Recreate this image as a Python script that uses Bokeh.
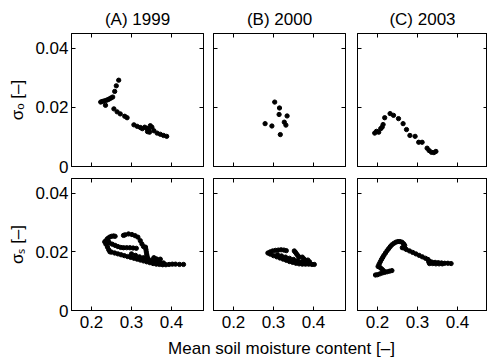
from bokeh.plotting import figure
from bokeh.layouts import column, row
from bokeh.models import (FixedTicker, NumeralTickFormatter, CustomJSTickFormatter,
                          LinearAxis, Range1d, Label)
from bokeh.embed import file_html
from bokeh.resources import INLINE

FONT = "Liberation Sans"
FS = "17px"

titles = ["(A) 1999", "(B) 2000", "(C) 2003"]
x_ticks = [0.2, 0.3, 0.4]
y_ticks = [0, 0.02, 0.04]
y_label_top = "σₒ [–]"
y_label_bottom = "σₛ [–]"
x_label = "Mean soil moisture content [–]"

# ---- top row: sigma_o ----
top_A_x = [0.223, 0.227, 0.232, 0.237, 0.241, 0.245, 0.249, 0.253, 0.258, 0.262, 0.268,
           0.235, 0.256, 0.264, 0.272, 0.283, 0.289, 0.306, 0.314, 0.322, 0.327, 0.333,
           0.338, 0.343, 0.347, 0.351, 0.340, 0.345, 0.356, 0.364, 0.372, 0.380, 0.388]
top_A_y = [0.0218, 0.0220, 0.0222, 0.0224, 0.0226, 0.0229, 0.0232, 0.0235, 0.0254, 0.0273, 0.0292,
           0.0207, 0.0195, 0.0185, 0.0178, 0.0170, 0.0165, 0.0141, 0.0136, 0.0132, 0.0128, 0.0133,
           0.0129, 0.0122, 0.0138, 0.0133, 0.0118, 0.0116, 0.0121, 0.0113, 0.0109, 0.0105, 0.0102]

top_B_x = [0.303, 0.315, 0.314, 0.334, 0.327, 0.331, 0.279, 0.296, 0.317]
top_B_y = [0.0218, 0.0198, 0.0176, 0.0171, 0.0150, 0.0140, 0.0145, 0.0137, 0.0108]

top_C_x = [0.193, 0.1975, 0.203, 0.208, 0.2115, 0.214, 0.218, 0.2315, 0.240, 0.2525, 0.264,
           0.2725, 0.281, 0.294, 0.303, 0.3115, 0.324, 0.329, 0.335, 0.341, 0.346]
top_C_y = [0.0113, 0.0119, 0.0116, 0.0128, 0.0133, 0.0142, 0.0165, 0.0179, 0.0173, 0.0162, 0.0145,
           0.0125, 0.0105, 0.0102, 0.0082, 0.0082, 0.0062, 0.0054, 0.0048, 0.0047, 0.0051]

# ---- bottom row: sigma_s ----
bot_A_x = [0.233, 0.236, 0.240, 0.245, 0.250, 0.255, 0.259, 0.238, 0.242,
           0.280, 0.284, 0.2925, 0.301, 0.309, 0.316, 0.322, 0.326, 0.330,
           0.245, 0.252, 0.259, 0.266, 0.273, 0.280, 0.288, 0.296, 0.304, 0.312,
           0.236, 0.240, 0.243,
           0.246, 0.250, 0.258, 0.266, 0.274, 0.282, 0.290, 0.298, 0.306, 0.314, 0.322, 0.330,
           0.338, 0.346, 0.354, 0.362, 0.370, 0.378, 0.386, 0.394, 0.402, 0.410, 0.420, 0.430,
           0.300, 0.310, 0.320, 0.330, 0.340, 0.350, 0.360, 0.370, 0.380,
           0.335, 0.336, 0.337, 0.338, 0.339, 0.340,
           0.356, 0.362, 0.366, 0.372]
bot_A_y = [0.0234, 0.0238, 0.0245, 0.0250, 0.0253, 0.0254, 0.0253, 0.0230, 0.0236,
           0.0256, 0.0258, 0.0261, 0.0259, 0.0255, 0.0250, 0.0238, 0.0227, 0.0218,
           0.0230, 0.0226, 0.0222, 0.0218, 0.0215, 0.0214, 0.0214, 0.0214, 0.0213, 0.0212,
           0.0226, 0.0216, 0.0207,
           0.0200, 0.0199, 0.0196, 0.0193, 0.0190, 0.0187, 0.0184, 0.0181, 0.0178, 0.0175, 0.0172, 0.0169,
           0.0166, 0.0163, 0.0160, 0.0158, 0.0157, 0.0156, 0.0156, 0.0157, 0.0158, 0.0158, 0.0157, 0.0157,
           0.0193, 0.0188, 0.0183, 0.0180, 0.0176, 0.0172, 0.0168, 0.0165, 0.0162,
           0.0216, 0.0208, 0.0200, 0.0192, 0.0185, 0.0178,
           0.0180, 0.0176, 0.0172, 0.0175]

bot_B_x = [0.286, 0.292, 0.298, 0.305, 0.312, 0.319, 0.326, 0.332,
           0.292, 0.300, 0.308, 0.316, 0.324, 0.332, 0.340, 0.348, 0.356, 0.364, 0.372, 0.380,
           0.388, 0.396, 0.402,
           0.310, 0.320, 0.330, 0.340, 0.350, 0.360, 0.370, 0.380, 0.390, 0.345, 0.355, 0.365, 0.375,
           0.352, 0.355, 0.358, 0.361, 0.364, 0.372, 0.376, 0.380, 0.386, 0.390]
bot_B_y = [0.0196, 0.0200, 0.0203, 0.0205, 0.0206, 0.0207, 0.0206, 0.0204,
           0.0192, 0.0187, 0.0183, 0.0179, 0.0175, 0.0171, 0.0167, 0.0164, 0.0161, 0.0159, 0.0158, 0.0158,
           0.0158, 0.0157, 0.0157,
           0.0190, 0.0186, 0.0182, 0.0178, 0.0174, 0.0170, 0.0166, 0.0163, 0.0161, 0.0169, 0.0166, 0.0163, 0.0161,
           0.0203, 0.0198, 0.0192, 0.0187, 0.0182, 0.0182, 0.0176, 0.0171, 0.0172, 0.0166]

bot_C_x = [0.195, 0.200, 0.206, 0.212, 0.218, 0.224, 0.230, 0.236,
           0.207, 0.211, 0.215,
           0.2015, 0.204, 0.207, 0.210, 0.213, 0.216, 0.220, 0.224, 0.228, 0.232, 0.236, 0.241,
           0.246, 0.251, 0.256, 0.261, 0.265, 0.268, 0.266, 0.262, 0.268,
           0.272, 0.280, 0.288, 0.296, 0.304, 0.312, 0.320, 0.326, 0.330, 0.333,
           0.328, 0.336, 0.344, 0.352, 0.360, 0.368, 0.376, 0.384,
           0.330, 0.338, 0.346, 0.354, 0.362]
bot_C_y = [0.0121, 0.0122, 0.0125, 0.0128, 0.0130, 0.0132, 0.0134, 0.0136,
           0.0146, 0.0141, 0.0136,
           0.0150, 0.0158, 0.0166, 0.0174, 0.0181, 0.0188, 0.0196, 0.0204, 0.0211, 0.0218, 0.0224, 0.0229,
           0.0233, 0.0235, 0.0235, 0.0233, 0.0228, 0.0222, 0.0217, 0.0214, 0.0212,
           0.0208, 0.0203, 0.0198, 0.0193, 0.0188, 0.0183, 0.0178, 0.0174, 0.0168, 0.0164,
           0.0166, 0.0165, 0.0164, 0.0163, 0.0162, 0.0161, 0.0161, 0.0160,
           0.0160, 0.0160, 0.0159, 0.0159, 0.0159]

X_MIN, X_MAX = 0.15, 0.48
Y_MIN, Y_MAX = 0.0, 0.045

BLANK = CustomJSTickFormatter(code="return '';")


def style_axis(ax, ticks, fmt, show):
    ax.ticker = FixedTicker(ticks=ticks)
    ax.major_tick_in = 4
    ax.major_tick_out = 0
    ax.minor_tick_line_color = None
    ax.axis_line_color = "black"
    ax.axis_line_width = 1
    ax.major_tick_line_color = "black"
    ax.major_label_text_font = FONT
    ax.major_label_text_color = "black"
    ax.major_label_text_font_size = FS
    if show:
        ax.formatter = NumeralTickFormatter(format=fmt)
    else:
        ax.formatter = BLANK
        ax.major_label_standoff = 0


FRAME_W = [132, 132, 130]
BORDER_L = [71, 5, 6]
BORDER_R = [5, 6, 0]


def make_panel(col, top, xs, ys):
    fw = FRAME_W[col]
    x_max = X_MIN + (X_MAX - X_MIN) * fw / 132.0
    p = figure(frame_width=fw, frame_height=133 if top else 132,
               x_range=Range1d(X_MIN, x_max), y_range=Range1d(Y_MIN, Y_MAX),
               output_backend="svg", toolbar_location=None,
               min_border_left=BORDER_L[col], min_border_right=BORDER_R[col],
               min_border_top=33 if top else 2,
               min_border_bottom=10 if top else 26)
    p.background_fill_color = "white"
    p.border_fill_color = "white"
    p.outline_line_color = "black"
    p.outline_line_width = 1
    p.xgrid.visible = False
    p.ygrid.visible = False

    xb = p.xaxis[0]
    yl = p.yaxis[0]
    style_axis(xb, x_ticks, "0.[0]", not top)
    if not top:
        xb.major_label_standoff = 5
    style_axis(yl, y_ticks, "0.[00]", col == 0)
    if col == 0:
        yl.major_label_standoff = 3
        yl.axis_label = y_label_top if top else y_label_bottom
        yl.axis_label_text_font = FONT
        yl.axis_label_text_font_size = FS
        yl.axis_label_text_font_style = "normal"
        yl.axis_label_text_color = "black"
        yl.axis_label_standoff = 5

    xa = LinearAxis()
    style_axis(xa, x_ticks, "0.[0]", False)
    p.add_layout(xa, "above")
    yr = LinearAxis()
    style_axis(yr, y_ticks, "0.[00]", False)
    p.add_layout(yr, "right")

    if top:
        p.title.text = titles[col]
        p.title.align = "center"
        p.title.text_font = FONT
        p.title.text_font_size = FS
        p.title.text_font_style = "normal"
        p.title.text_color = "black"
        p.title.standoff = 10

    p.scatter(xs, ys, size=4.3, color="black", line_color="black")
    return p


pA = make_panel(0, True, top_A_x, top_A_y)
pB = make_panel(1, True, top_B_x, top_B_y)
pC = make_panel(2, True, top_C_x, top_C_y)
qA = make_panel(0, False, bot_A_x, bot_A_y)
qB = make_panel(1, False, bot_B_x, bot_B_y)
qC = make_panel(2, False, bot_C_x, bot_C_y)

# strip holding the shared x-axis label, centred under the middle panel
lab = figure(width=487, height=24, x_range=Range1d(0, 487), y_range=Range1d(0, 24),
             output_backend="svg", toolbar_location=None, title_location=None,
             x_axis_location=None, y_axis_location=None,
             min_border_left=0, min_border_right=0, min_border_top=0, min_border_bottom=0)
lab.outline_line_color = None
lab.xgrid.visible = False
lab.ygrid.visible = False
lab.add_layout(Label(x=281, y=12, text=x_label, text_align="center", text_baseline="middle",
                     text_font=FONT, text_font_size=FS, text_color="black"))

layout = column(row(pA, pB, pC), row(qA, qB, qC), lab)

open("out.html", "w").write(file_html(layout, INLINE))
